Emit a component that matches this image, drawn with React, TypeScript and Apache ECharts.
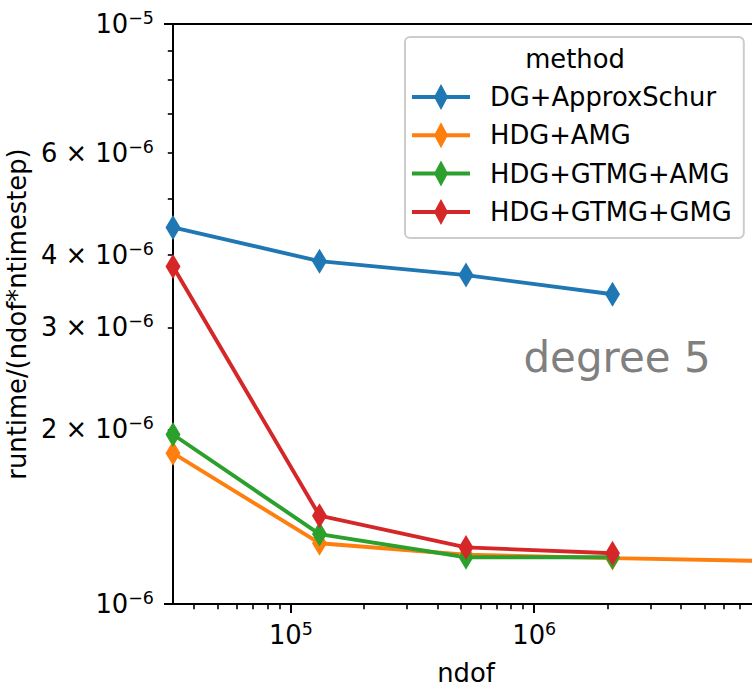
import React, { useEffect, useRef } from 'react';
import * as echarts from 'echarts';

// ---- data ----
const ndof = [32768, 131072, 524288, 2097152, 8388608];
const seriesNames = ['DG+ApproxSchur', 'HDG+AMG', 'HDG+GTMG+AMG', 'HDG+GTMG+GMG'];
const dgApproxSchur = [4.46e-6, 3.9e-6, 3.69e-6, 3.42e-6];
const hdgAmg = [1.82e-6, 1.273e-6, 1.216e-6, 1.2e-6, 1.187e-6];
const hdgGtmgAmg = [1.96e-6, 1.32e-6, 1.204e-6, 1.204e-6];
const hdgGtmgGmg = [3.82e-6, 1.42e-6, 1.252e-6, 1.223e-6];
const seriesValues = [dgApproxSchur, hdgAmg, hdgGtmgAmg, hdgGtmgGmg];
const colors = ['#1f77b4', '#ff7f0e', '#2ca02c', '#d62728'];

// ---- axes ----
const X_MIN = 32768;
const X_MAX = 8388608;
const Y_MIN = 1e-6;
const Y_MAX = 1e-5;
const xMajorTicks = [1e5, 1e6];
const xMinorTicks = [
  4e4, 5e4, 6e4, 7e4, 8e4, 9e4,
  2e5, 3e5, 4e5, 5e5, 6e5, 7e5, 8e5, 9e5,
  2e6, 3e6, 4e6, 5e6, 6e6, 7e6, 8e6,
];
const xLabelTicks = [1e5, 1e6];
const yMajorTicks = [1e-6, 1e-5];
const yMinorTicks = [2e-6, 3e-6, 4e-6, 5e-6, 6e-6, 7e-6, 8e-6, 9e-6];
const yLabelTicks = [1e-6, 2e-6, 3e-6, 4e-6, 6e-6, 1e-5];

const FONT = 'DejaVu Sans';
const FS = 25.8;
const LEGEND_ICON = 'path://M0,11L58,11L58,15L0,15Z M29,0L36,13L29,26L22,13Z';

const lg = (v: number) => Math.log10(v);

function sciLabel(v: number): string {
  const e = Math.floor(v + 1e-9);
  const m = Math.round(Math.pow(10, v - e));
  const exp = e < 0 ? '\u2212' + -e : String(e);
  if (m === 1) return `{n|10}{s|${exp}}`;
  return `{n|${m} \u00d7 10}{s|${exp}}`;
}

const rich = {
  n: { fontSize: FS, fontFamily: FONT, color: '#000', lineHeight: 30 },
  s: { fontSize: 17.5, fontFamily: FONT, color: '#000', lineHeight: 16, verticalAlign: 'top' },
};

export default function App() {
  const ref = useRef<HTMLDivElement>(null);
  useEffect(() => {
    if (!ref.current) return;
    const chart = echarts.init(ref.current, null, { renderer: 'svg' });
    const axisLine = { show: true, lineStyle: { color: '#000', width: 2 } };
    const hiddenCommon = {
      splitLine: { show: false },
      axisLine: { show: false },
      axisLabel: { show: false },
      axisTick: { show: false },
    };
    const option: any = {
      animation: false,
      backgroundColor: '#ffffff',
      grid: {
        left: 173,
        top: 24,
        width: 586,
        height: 580,
        containLabel: false,
        outerBoundsMode: 'none',
      },
      xAxis: [
        { type: 'log', min: X_MIN, max: X_MAX, show: false },
        {
          type: 'value',
          min: lg(X_MIN),
          max: lg(X_MAX),
          position: 'bottom',
          axisLine,
          splitLine: { show: false },
          axisTick: {
            show: true,
            customValues: xMajorTicks.map(lg),
            length: 9,
            lineStyle: { color: '#000', width: 2 },
          },
          axisLabel: {
            show: true,
            customValues: xLabelTicks.map(lg),
            formatter: (v: number) => sciLabel(v),
            rich,
            margin: 16,
            fontFamily: FONT,
            fontSize: FS,
            color: '#000',
          },
          name: 'ndof',
          nameLocation: 'middle',
          nameGap: 57,
          nameTextStyle: { fontFamily: FONT, fontSize: FS, color: '#000', lineHeight: 24 },
        },
        {
          type: 'value',
          min: lg(X_MIN),
          max: lg(X_MAX),
          position: 'bottom',
          ...hiddenCommon,
          axisTick: {
            show: true,
            customValues: xMinorTicks.map(lg),
            length: 5.2,
            lineStyle: { color: '#000', width: 1.6 },
          },
        },
        {
          type: 'value',
          min: lg(X_MIN),
          max: lg(X_MAX),
          position: 'top',
          ...hiddenCommon,
          axisLine,
        },
      ],
      yAxis: [
        { type: 'log', min: Y_MIN, max: Y_MAX, show: false },
        {
          type: 'value',
          min: lg(Y_MIN),
          max: lg(Y_MAX),
          position: 'left',
          axisLine,
          splitLine: { show: false },
          axisTick: {
            show: true,
            customValues: yMajorTicks.map(lg),
            length: 9,
            lineStyle: { color: '#000', width: 2 },
          },
          axisLabel: {
            show: true,
            customValues: yLabelTicks.map(lg),
            formatter: (v: number) => sciLabel(v),
            rich,
            margin: 19,
            fontFamily: FONT,
            fontSize: FS,
            color: '#000',
            showMinLabel: true,
            showMaxLabel: true,
          },
          name: 'runtime/(ndof*ntimestep)',
          nameLocation: 'middle',
          nameGap: 128,
          nameTextStyle: { fontFamily: FONT, fontSize: FS, color: '#000', lineHeight: 26 },
        },
        {
          type: 'value',
          min: lg(Y_MIN),
          max: lg(Y_MAX),
          position: 'left',
          ...hiddenCommon,
          axisTick: {
            show: true,
            customValues: yMinorTicks.map(lg),
            length: 5.2,
            lineStyle: { color: '#000', width: 1.6 },
          },
        },
      ],
      legend: {
        orient: 'vertical',
        left: 405,
        top: 37,
        padding: [47, 12, 13, 7],
        itemWidth: 58,
        itemHeight: 26,
        itemGap: 12.3,
        backgroundColor: 'rgba(255,255,255,0.8)',
        borderColor: '#cccccc',
        borderWidth: 2,
        borderRadius: 5,
        selectedMode: false,
        itemStyle: { borderWidth: 0 },
        textStyle: {
          fontFamily: FONT,
          fontSize: FS,
          color: '#000',
          lineHeight: 26,
          padding: [0, 0, 0, 15],
        },
        data: seriesNames.map((n) => ({ name: n, icon: LEGEND_ICON })),
      },
      graphic: {
        z: 100,
        elements: [
          {
            type: 'text',
            x: 575,
            y: 59,
            z: 100,
            style: {
              text: 'method',
              fontFamily: FONT,
              fontSize: FS,
              fill: '#000',
              textAlign: 'center',
              textVerticalAlign: 'middle',
            },
          },
          {
            type: 'text',
            x: 617,
            y: 357,
            z: 100,
            style: {
              text: 'degree 5',
              fontFamily: FONT,
              fontSize: 42,
              fill: '#808080',
              textAlign: 'center',
              textVerticalAlign: 'middle',
            },
          },
        ],
      },
      series: seriesNames.map((name, i) => ({
        name,
        type: 'line',
        xAxisIndex: 0,
        yAxisIndex: 0,
        data: seriesValues[i].map((v, j) => [ndof[j], v]),
        symbol: 'diamond',
        symbolSize: [15, 25],
        clip: true,
        lineStyle: { color: colors[i], width: 3.9 },
        itemStyle: { color: colors[i], borderWidth: 0 },
        emphasis: { disabled: true },
      })),
    };
    chart.setOption(option);
    return () => chart.dispose();
  }, []);
  return (
    <div
      ref={ref}
      style={{ position: 'absolute', left: 0, top: 0, width: 752, height: 687 }}
    />
  );
}
